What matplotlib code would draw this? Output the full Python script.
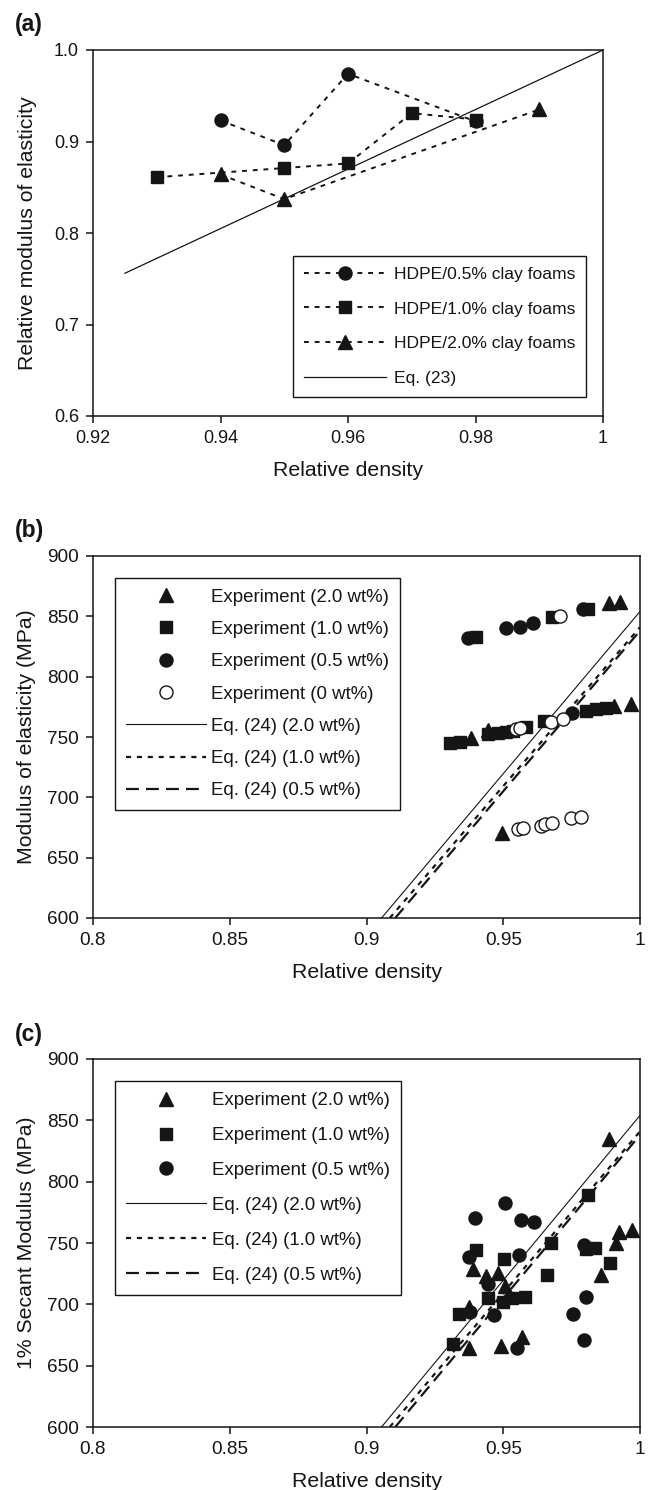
import matplotlib
matplotlib.use("Agg")
import matplotlib.pyplot as plt
from matplotlib.lines import Line2D

plt.rcParams["font.family"] = ["Liberation Sans", "DejaVu Sans"]

W, H, DPI = 652, 1490, 100
INK = "#151515"

# ---------------- (a) relative modulus vs relative density ----------------
a_rho_05 = [0.94, 0.95, 0.96, 0.98]
a_mod_05 = [0.923, 0.896, 0.974, 0.922]
a_rho_10 = [0.93, 0.95, 0.96, 0.97, 0.98]
a_mod_10 = [0.861, 0.871, 0.876, 0.931, 0.924]
a_rho_20 = [0.94, 0.95, 0.99]
a_mod_20 = [0.864, 0.837, 0.935]
a_eq23_rho = [0.925, 1.0]
a_eq23_mod = [0.756, 1.0]
a_xticks = [0.92, 0.94, 0.96, 0.98, 1.0]
a_xticklabels = ["0.92", "0.94", "0.96", "0.98", "1"]
a_yticks = [0.6, 0.7, 0.8, 0.9, 1.0]
a_yticklabels = ["0.6", "0.7", "0.8", "0.9", "1.0"]
a_labels = ["HDPE/0.5% clay foams", "HDPE/1.0% clay foams",
            "HDPE/2.0% clay foams", "Eq. (23)"]

# ---------------- (b) modulus of elasticity ----------------
b_rho_20 = [0.9383, 0.9444, 0.9495, 0.9886, 0.9927, 0.9906, 0.9967]
b_mod_20 = [748.8, 755.5, 670.2, 860.8, 861.6, 775.6, 777.3]
b_rho_10 = [0.9401, 0.9679, 0.9809, 0.9304, 0.9341, 0.9444, 0.9480,
            0.9510, 0.9535, 0.9584, 0.9650, 0.9803, 0.9840, 0.9876]
b_mod_10 = [833.1, 849.2, 856.0, 745.2, 746.0, 752.1, 753.0,
            754.0, 755.0, 758.5, 763.5, 771.7, 772.9, 773.8]
b_rho_05 = [0.9371, 0.9511, 0.9560, 0.9608, 0.9790, 0.9752]
b_mod_05 = [831.8, 840.0, 841.4, 844.7, 856.0, 770.0]
b_rho_00 = [0.9706, 0.9547, 0.9562, 0.9675, 0.9717,
            0.9553, 0.9572, 0.9638, 0.9652, 0.9678, 0.9748, 0.9785]
b_mod_00 = [850.2, 756.3, 757.7, 762.6, 764.6,
            673.4, 674.7, 676.5, 677.5, 679.0, 682.5, 683.9]
b_eq_rho = [[0.9055, 1.0], [0.9085, 1.0], [0.9105, 1.0]]
b_eq_mod = [[600.0, 854.0], [600.0, 841.0], [600.0, 838.0]]
b_labels = ["Experiment (2.0 wt%)", "Experiment (1.0 wt%)",
            "Experiment (0.5 wt%)", "Experiment (0 wt%)",
            "Eq. (24) (2.0 wt%)", "Eq. (24) (1.0 wt%)", "Eq. (24) (0.5 wt%)"]

# ---------------- (c) 1% secant modulus ----------------
c_rho_20 = [0.9886, 0.9390, 0.9436, 0.9480, 0.9505, 0.9375, 0.9375,
            0.9490, 0.9570, 0.9858, 0.9912, 0.9925, 0.9970]
c_mod_20 = [834.5, 728.4, 722.8, 725.4, 715.0, 698.0, 664.0,
            666.0, 673.4, 724.0, 749.7, 759.0, 760.5]
c_rho_10 = [0.9316, 0.9340, 0.9400, 0.9501, 0.9446, 0.9500, 0.9532,
            0.9580, 0.9675, 0.9660, 0.9810, 0.9802, 0.9835, 0.9890]
c_mod_10 = [667.5, 692.5, 744.2, 736.8, 705.0, 702.0, 705.0,
            706.0, 749.7, 724.3, 789.0, 745.0, 745.6, 733.3]
c_rho_05 = [0.9508, 0.9398, 0.9565, 0.9612, 0.9375, 0.9556, 0.9445,
            0.9467, 0.9550, 0.9797, 0.9803, 0.9754, 0.9797, 0.9380]
c_mod_05 = [782.9, 770.6, 768.8, 766.8, 738.7, 740.1, 716.2,
            691.0, 664.0, 748.3, 706.0, 691.9, 670.6, 694.0]
c_eq_rho = [[0.9055, 1.0], [0.9085, 1.0], [0.9105, 1.0]]
c_eq_mod = [[600.0, 854.0], [600.0, 841.0], [600.0, 838.0]]
c_labels = ["Experiment (2.0 wt%)", "Experiment (1.0 wt%)",
            "Experiment (0.5 wt%)",
            "Eq. (24) (2.0 wt%)", "Eq. (24) (1.0 wt%)", "Eq. (24) (0.5 wt%)"]

bc_xticks = [0.8, 0.85, 0.9, 0.95, 1.0]
bc_xticklabels = ["0.8", "0.85", "0.9", "0.95", "1"]
bc_yticks = [600, 650, 700, 750, 800, 850, 900]
bc_yticklabels = [str(v) for v in bc_yticks]

LAB_FS = 15.3

MS_O, MS_S, MS_T = 9.4, 8.7, 10.2
DOT = (0, (2.5, 3.0))
EQ_STYLES = [dict(ls="-", lw=0.8),
             dict(ls=(0, (2.3, 2.6)), lw=1.6),
             dict(ls=(0, (5.8, 3.2)), lw=1.6)]

fig = plt.figure(figsize=(W / DPI, H / DPI), dpi=DPI)


def axes_px(left, top, right, bottom):
    return fig.add_axes([left / W, 1 - bottom / H,
                         (right - left) / W, (bottom - top) / H])


def style(ax, xt, xtl, yt, ytl, xlim, ylim, ylabel, tick_fs, ypad):
    ax.set_xlim(*xlim)
    ax.set_ylim(*ylim)
    ax.set_xticks(xt)
    ax.set_xticklabels(xtl)
    ax.set_yticks(yt)
    ax.set_yticklabels(ytl)
    for s in ax.spines.values():
        s.set_linewidth(1.1)
        s.set_color(INK)
    ax.tick_params(direction="out", length=5, width=1.1, labelsize=tick_fs,
                   pad=5, colors=INK, top=False, right=False)
    ax.set_xlabel("Relative density", fontsize=LAB_FS, color=INK, labelpad=10.5)
    ax.set_ylabel(ylabel, fontsize=LAB_FS, color=INK, labelpad=ypad)


def legend(ax, handles, labels, left, top, fs, **kw):
    leg = ax.legend(handles, labels, loc="upper left",
                    bbox_to_anchor=(left / W, 1 - top / H),
                    bbox_transform=fig.transFigure, borderaxespad=0,
                    frameon=True, fancybox=False, framealpha=1,
                    edgecolor=INK, fontsize=fs, numpoints=1, **kw)
    leg.get_frame().set_linewidth(1.0)
    for t in leg.get_texts():
        t.set_color(INK)
    return leg


# ---------------- panel (a) ----------------
ax = axes_px(93, 50, 603, 416)
ax.plot(a_eq23_rho, a_eq23_mod, color=INK, lw=0.9, zorder=2)
la = dict(color=INK, ls=DOT, lw=1.4, mfc=INK, mec=INK, zorder=3)
ax.plot(a_rho_05, a_mod_05, marker="o", ms=MS_O, **la)
ax.plot(a_rho_10, a_mod_10, marker="s", ms=MS_S, **la)
ax.plot(a_rho_20, a_mod_20, marker="^", ms=MS_T, **la)
style(ax, a_xticks, a_xticklabels, a_yticks, a_yticklabels,
      (0.92, 1.0), (0.6, 1.0), "Relative modulus of elasticity", 13, 12.5)
ha = [Line2D([], [], marker="o", ms=MS_O, **la),
      Line2D([], [], marker="s", ms=MS_S, **la),
      Line2D([], [], marker="^", ms=MS_T, **la),
      Line2D([], [], color=INK, lw=0.9)]
legend(ax, ha, a_labels, 293, 256, 12.6, handlelength=4.7, handletextpad=0.45,
       labelspacing=1.12, borderpad=0.6)


def experiment_panel(ax, series, eq_rho, eq_mod):
    for (rho, mod, mk, ms, face) in series:
        ax.plot(rho, mod, ls="none", marker=mk, ms=ms, mfc=face, mec=INK,
                mew=1.0, zorder=4)
    for r, m, st in zip(eq_rho, eq_mod, EQ_STYLES):
        ax.plot(r, m, color=INK, zorder=3, **st)


def experiment_handles(series):
    hs = [Line2D([], [], ls="none", marker=mk, ms=ms, mfc=face, mec=INK, mew=1.0)
          for (_, _, mk, ms, face) in series]
    hs += [Line2D([], [], color=INK, **st) for st in EQ_STYLES]
    return hs


# ---------------- panel (b) ----------------
ax = axes_px(93, 556, 640, 918)
b_series = [(b_rho_20, b_mod_20, "^", MS_T, INK),
            (b_rho_10, b_mod_10, "s", MS_S, INK),
            (b_rho_05, b_mod_05, "o", MS_O, INK),
            (b_rho_00, b_mod_00, "o", MS_O, "white")]
experiment_panel(ax, b_series, b_eq_rho, b_eq_mod)
style(ax, bc_xticks, bc_xticklabels, bc_yticks, bc_yticklabels,
      (0.8, 1.0), (600, 900), "Modulus of elasticity (MPa)", 13.7, 8)
legend(ax, experiment_handles(b_series), b_labels, 115, 578, 13.4,
       handlelength=4.3, handletextpad=0.3, labelspacing=0.82, borderpad=0.57)

# ---------------- panel (c) ----------------
ax = axes_px(93, 1059, 640, 1427)
c_series = [(c_rho_20, c_mod_20, "^", MS_T, INK),
            (c_rho_10, c_mod_10, "s", MS_S, INK),
            (c_rho_05, c_mod_05, "o", MS_O, INK)]
experiment_panel(ax, c_series, c_eq_rho, c_eq_mod)
style(ax, bc_xticks, bc_xticklabels, bc_yticks, bc_yticklabels,
      (0.8, 1.0), (600, 900), "1% Secant Modulus (MPa)", 13.7, 8)
legend(ax, experiment_handles(c_series), c_labels, 115, 1081, 13.4,
       handlelength=4.3, handletextpad=0.3, labelspacing=0.96, borderpad=0.6)

# panel letters
for txt, base in (("(a)", 31), ("(b)", 537), ("(c)", 1041)):
    fig.text(15 / W, 1 - base / H, txt, fontsize=16.5, fontweight="bold",
             color=INK, va="baseline", ha="left")

fig.savefig("out.png", dpi=DPI)
